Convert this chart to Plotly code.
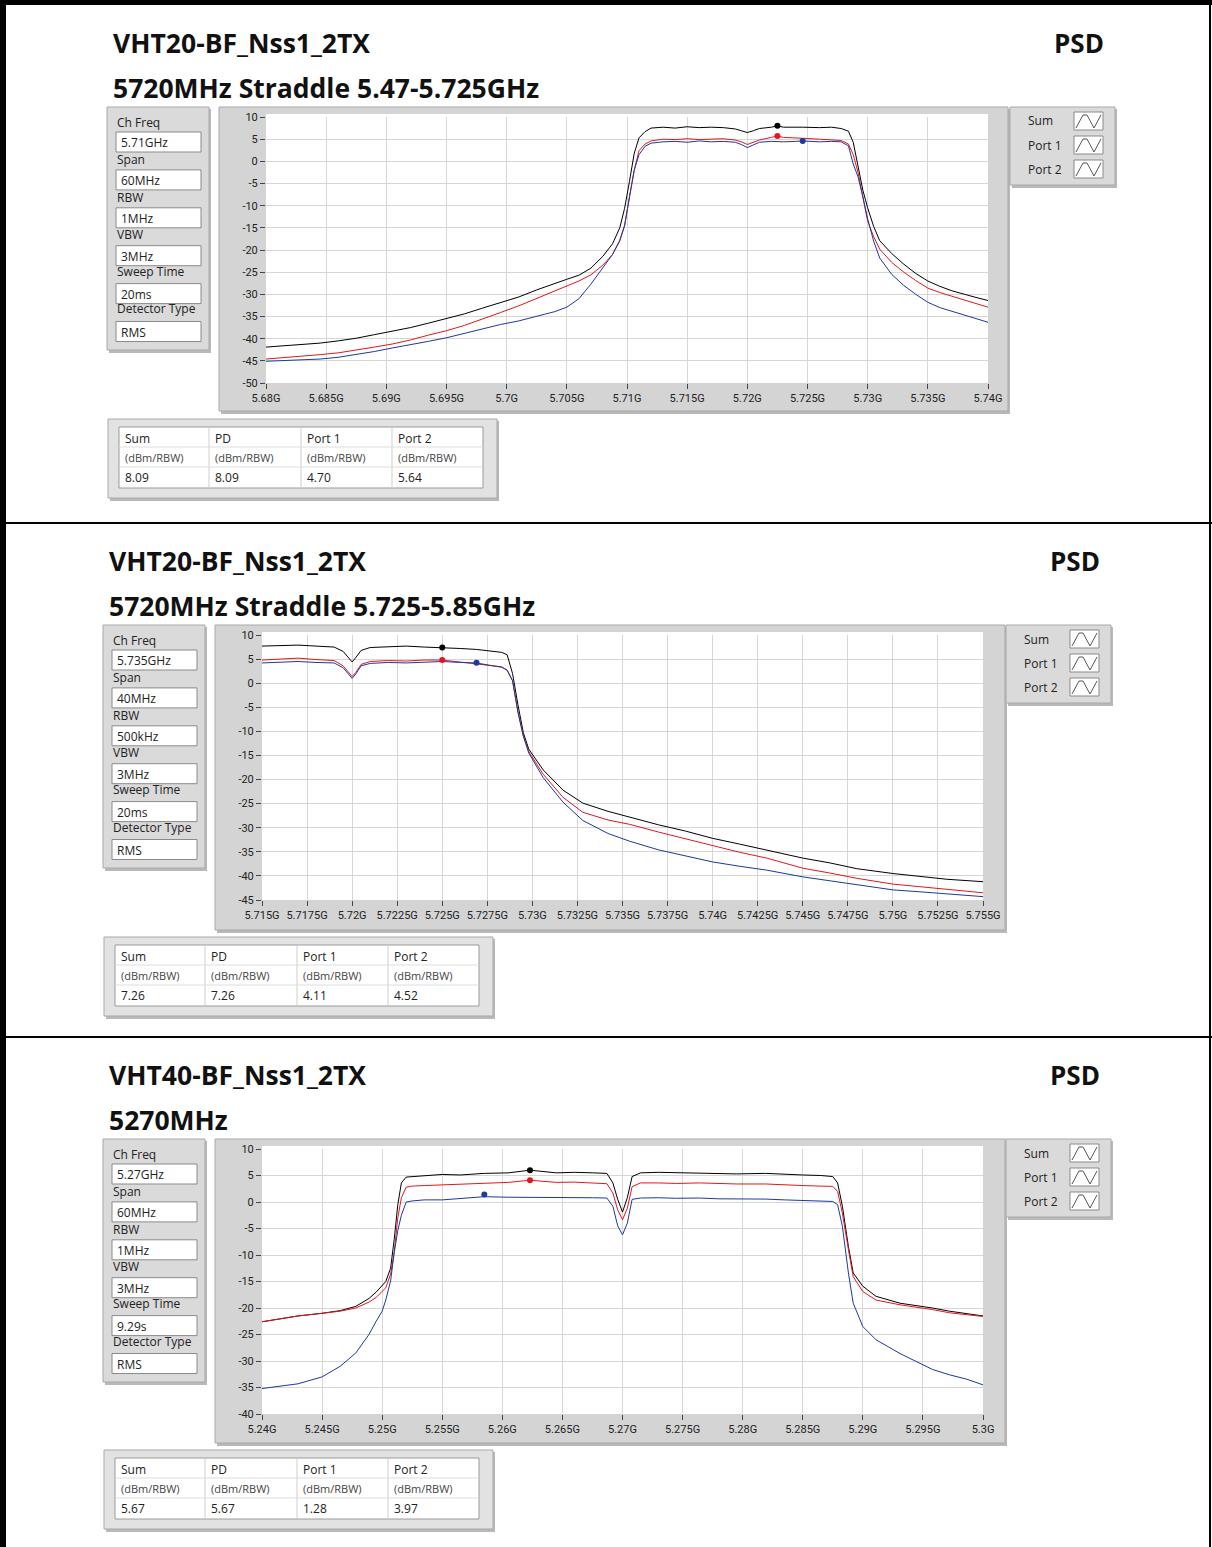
import plotly.graph_objects as go

W, H = 1212, 1547

# ======================= DATA =======================
SERIES_NAMES = ["Sum", "Port 1", "Port 2"]
PARAM_LABELS = ["Ch Freq", "Span", "RBW", "VBW", "Sweep Time", "Detector Type"]
TABLE_HEAD = ["Sum", "PD", "Port 1", "Port 2"]
TABLE_UNIT = ["(dBm/RBW)", "(dBm/RBW)", "(dBm/RBW)", "(dBm/RBW)"]

# ---- Panel 1 ----
P1_TITLE = "VHT20-BF_Nss1_2TX"
P1_SUBTITLE = "5720MHz Straddle 5.47-5.725GHz"
P1_PARAMS = ["5.71GHz", "60MHz", "1MHz", "3MHz", "20ms", "RMS"]
P1_TABLE = ["8.09", "8.09", "4.70", "5.64"]
P1_FREQ = [5.680, 5.6815, 5.683, 5.6845, 5.686, 5.6875, 5.689, 5.6905, 5.692, 5.6935,
           5.695, 5.6965, 5.698, 5.6995, 5.701, 5.7025, 5.704, 5.705, 5.706, 5.707,
           5.708, 5.7088, 5.7094, 5.7098, 5.7102, 5.7106, 5.711, 5.7115, 5.712, 5.713,
           5.714, 5.715, 5.716, 5.717, 5.718, 5.719, 5.7195, 5.720, 5.7205, 5.721,
           5.722, 5.7225, 5.723, 5.724, 5.7246, 5.726, 5.727, 5.7278, 5.7284, 5.7288,
           5.7292, 5.7296, 5.730, 5.7305, 5.731, 5.732, 5.733, 5.734, 5.735, 5.736,
           5.737, 5.738, 5.739, 5.740]
P1_SUM = [-41.9, -41.6, -41.3, -41.0, -40.5, -39.9, -39.1, -38.3, -37.5, -36.5,
          -35.5, -34.4, -33.1, -31.9, -30.6, -29.0, -27.5, -26.6, -25.7, -24.1,
          -21.4, -18.6, -15.0, -10.6, -4.6, 1.8, 5.3, 6.7, 7.5, 7.7,
          7.5, 7.8, 7.6, 7.7, 7.6, 7.3, 6.9, 6.5, 6.9, 7.4,
          7.7, 8.0, 7.7, 7.8, 7.7, 7.6, 7.7, 7.4, 6.8, 4.3,
          -1.0, -6.5, -10.5, -14.7, -17.9, -20.8, -23.2, -25.3, -27.0, -28.2,
          -29.2, -30.0, -30.7, -31.4]
P1_PORT1 = [-44.6, -44.3, -43.9, -43.6, -43.2, -42.6, -41.9, -41.2, -40.3, -39.2,
            -38.2, -37.0, -35.6, -34.1, -32.6, -30.9, -29.3, -28.1, -27.0, -25.6,
            -23.4, -21.0, -18.0, -14.5, -8.5, -2.0, 2.4, 3.9, 4.6, 5.0,
            4.9, 5.1, 4.9, 5.0, 5.1, 4.8, 4.4, 3.8, 4.3, 4.8,
            5.4, 5.7, 5.4, 5.2, 5.2, 5.0, 4.9, 4.7, 3.9, 1.5,
            -2.5, -8.0, -13.5, -17.0, -19.8, -22.8, -25.0, -26.9, -28.6, -29.6,
            -30.4, -31.3, -32.1, -32.9]
P1_PORT2 = [-45.1, -44.9, -44.8, -44.6, -44.2, -43.6, -42.9, -42.1, -41.4, -40.6,
            -39.8, -38.8, -37.7, -36.8, -36.0, -35.0, -33.9, -32.9, -31.0, -27.7,
            -24.0, -21.0, -17.8, -14.5, -8.0, -2.0, 1.5, 3.4, 4.1, 4.4,
            4.5, 4.3, 4.6, 4.4, 4.5, 4.3, 3.8, 3.1, 3.7, 4.3,
            4.5, 4.4, 4.4, 4.5, 4.6, 4.4, 4.5, 4.4, 3.5, -0.6,
            -3.5, -8.0, -13.0, -18.0, -21.8, -25.5, -28.0, -30.0, -31.8, -33.0,
            -33.8, -34.6, -35.5, -36.3]
P1_MARK_X = [5.7225, 5.7225, 5.7246]
P1_MARK_Y = [8.0, 5.7, 4.6]
P1_XTICKS = [5.68, 5.685, 5.69, 5.695, 5.70, 5.705, 5.71, 5.715, 5.72, 5.725, 5.73, 5.735, 5.74]
P1_XLABELS = ["5.68G", "5.685G", "5.69G", "5.695G", "5.7G", "5.705G", "5.71G", "5.715G",
              "5.72G", "5.725G", "5.73G", "5.735G", "5.74G"]
P1_YTICKS = [10, 5, 0, -5, -10, -15, -20, -25, -30, -35, -40, -45, -50]
P1_YLABELS = ["10", "5", "0", "-5", "-10", "-15", "-20", "-25", "-30", "-35", "-40", "-45", "-50"]

# ---- Panel 2 ----
P2_TITLE = "VHT20-BF_Nss1_2TX"
P2_SUBTITLE = "5720MHz Straddle 5.725-5.85GHz"
P2_PARAMS = ["5.735GHz", "40MHz", "500kHz", "3MHz", "20ms", "RMS"]
P2_TABLE = ["7.26", "7.26", "4.11", "4.52"]
P2_FREQ = [5.715, 5.716, 5.717, 5.718, 5.719, 5.7195, 5.7198, 5.720, 5.7202, 5.7205,
           5.721, 5.722, 5.723, 5.724, 5.725, 5.726, 5.7269, 5.7278, 5.7283, 5.7286,
           5.7289, 5.7292, 5.7295, 5.7298, 5.7306, 5.7317, 5.7328, 5.7342, 5.7354, 5.737,
           5.7385, 5.740, 5.7415, 5.743, 5.745, 5.7465, 5.748, 5.750, 5.7515, 5.753,
           5.755]
P2_SUM = [7.7, 7.8, 7.9, 7.7, 7.5, 6.6, 5.3, 4.4, 5.3, 6.8,
          7.4, 7.6, 7.7, 7.5, 7.4, 7.2, 7.0, 6.7, 6.4, 5.9,
          2.0, -4.5, -10.3, -13.7, -18.0, -22.2, -24.9, -26.6, -27.8, -29.4,
          -30.7, -32.2, -33.4, -34.6, -36.3, -37.3, -38.5, -39.5, -40.1, -40.7,
          -41.2]
P2_PORT1 = [4.8, 5.0, 5.2, 4.9, 4.7, 3.6, 2.2, 1.4, 2.2, 3.9,
            4.5, 4.7, 4.6, 4.8, 4.8, 4.4, 4.1, 3.7, 3.4, 2.7,
            0.5, -6.0, -11.0, -14.2, -18.9, -23.7, -26.8, -28.4, -29.3, -30.9,
            -32.3, -33.8, -35.1, -36.3, -38.4, -39.4, -40.5, -41.7, -42.2, -42.8,
            -43.5]
P2_PORT2 = [4.2, 4.4, 4.5, 4.3, 4.2, 3.2, 1.9, 1.0, 1.9, 3.6,
            4.1, 4.3, 4.2, 4.4, 4.5, 4.3, 4.2, 3.6, 3.3, 2.7,
            0.5, -6.0, -11.0, -14.5, -19.6, -24.7, -28.5, -31.2, -32.8, -34.6,
            -35.8, -37.1, -38.0, -38.8, -40.2, -41.0, -41.7, -42.9, -43.3, -43.7,
            -44.3]
P2_MARK_X = [5.725, 5.725, 5.7269]
P2_MARK_Y = [7.4, 4.8, 4.25]
P2_XTICKS = [5.715, 5.7175, 5.72, 5.7225, 5.725, 5.7275, 5.73, 5.7325, 5.735, 5.7375,
             5.74, 5.7425, 5.745, 5.7475, 5.75, 5.7525, 5.755]
P2_XLABELS = ["5.715G", "5.7175G", "5.72G", "5.7225G", "5.725G", "5.7275G", "5.73G", "5.7325G",
              "5.735G", "5.7375G", "5.74G", "5.7425G", "5.745G", "5.7475G", "5.75G", "5.7525G", "5.755G"]
P2_YTICKS = [10, 5, 0, -5, -10, -15, -20, -25, -30, -35, -40, -45]
P2_YLABELS = ["10", "5", "0", "-5", "-10", "-15", "-20", "-25", "-30", "-35", "-40", "-45"]

# ---- Panel 3 ----
P3_TITLE = "VHT40-BF_Nss1_2TX"
P3_SUBTITLE = "5270MHz"
P3_PARAMS = ["5.27GHz", "60MHz", "1MHz", "3MHz", "9.29s", "RMS"]
P3_TABLE = ["5.67", "5.67", "1.28", "3.97"]
P3_FREQ = [5.240, 5.2415, 5.243, 5.245, 5.2465, 5.2478, 5.2489, 5.2495, 5.2500, 5.2503,
           5.2507, 5.2510, 5.2513, 5.2516, 5.2520, 5.2525, 5.2535, 5.255, 5.2565, 5.2585,
           5.2605, 5.2623, 5.2645, 5.266, 5.2675, 5.2687, 5.2692, 5.2696, 5.2700, 5.2704,
           5.2708, 5.2715, 5.273, 5.2745, 5.2764, 5.278, 5.2795, 5.2819, 5.2835, 5.285,
           5.2865, 5.2875, 5.2879, 5.2883, 5.2888, 5.2892, 5.2900, 5.2911, 5.2931, 5.2945,
           5.2958, 5.2972, 5.2986, 5.3000]
P3_SUM = [-22.6, -22.0, -21.5, -21.0, -20.5, -19.7, -18.2, -17.0, -15.8, -15.0,
          -12.5, -7.1, -0.5, 3.6, 4.7, 4.8, 5.0, 5.2, 5.1, 5.4,
          5.5, 6.0, 5.5, 5.6, 5.5, 5.4, 3.6, 0.5, -1.9, 0.8,
          4.8, 5.5, 5.6, 5.5, 5.5, 5.4, 5.3, 5.4, 5.2, 5.1,
          5.0, 4.8, 3.6, -0.8, -8.4, -13.4, -15.9, -17.8, -19.1, -19.5,
          -20.0, -20.6, -21.0, -21.5]
P3_PORT1 = [-22.6, -22.0, -21.5, -21.0, -20.6, -20.0, -18.9, -18.0, -16.8, -16.2,
            -13.6, -9.5, -3.0, 0.8, 2.8, 3.0, 3.1, 3.25, 3.3, 3.6,
            3.7, 4.1, 3.7, 3.75, 3.6, 3.45, 1.7, -1.5, -3.35, -1.2,
            2.9, 3.6, 3.6, 3.5, 3.6, 3.5, 3.4, 3.4, 3.2, 3.1,
            3.0, 2.95, 2.0, -2.1, -9.0, -14.1, -16.9, -18.5, -19.4, -19.8,
            -20.3, -20.9, -21.3, -21.6]
P3_PORT2 = [-35.2, -34.8, -34.3, -33.0, -31.0, -28.5, -25.0, -22.5, -20.6, -18.5,
            -14.9, -9.6, -5.4, -2.5, 0.0, 0.2, 0.4, 0.4, 0.6, 1.0,
            0.9, 0.9, 0.9, 0.9, 0.8, 0.75, -0.8, -4.5, -6.2, -4.0,
            0.5, 0.75, 0.8, 0.7, 0.75, 0.6, 0.6, 0.55, 0.4, 0.3,
            0.2, 0.1, -0.5, -4.6, -13.4, -19.1, -23.5, -26.0, -28.6, -30.2,
            -31.6, -32.6, -33.4, -34.5]
P3_MARK_X = [5.2623, 5.2623, 5.2585]
P3_MARK_Y = [6.0, 4.1, 1.4]
P3_XTICKS = [5.24, 5.245, 5.25, 5.255, 5.26, 5.265, 5.27, 5.275, 5.28, 5.285, 5.29, 5.295, 5.30]
P3_XLABELS = ["5.24G", "5.245G", "5.25G", "5.255G", "5.26G", "5.265G", "5.27G", "5.275G",
              "5.28G", "5.285G", "5.29G", "5.295G", "5.3G"]
P3_YTICKS = [10, 5, 0, -5, -10, -15, -20, -25, -30, -35, -40]
P3_YLABELS = ["10", "5", "0", "-5", "-10", "-15", "-20", "-25", "-30", "-35", "-40"]

# ======================= LAYOUT HELPERS =======================
TEXT_FONT = "Open Sans"
TICK_FONT = "Roboto"
COLORS = ["#000000", "#e3161f", "#1b3a9c"]

shapes = []
annotations = []


def px(x):
    return x / W


def py(y):
    return 1 - y / H


def rect(x0, y0, x1, y1, fill, line="rgba(0,0,0,0)", lw=0):
    shapes.append(dict(type="rect", xref="paper", yref="paper", layer="below",
                       x0=px(x0), x1=px(x1), y0=py(y1), y1=py(y0),
                       fillcolor=fill, line=dict(color=line, width=lw)))


def seg(x0, y0, x1, y1, color, lw=1):
    shapes.append(dict(type="line", xref="paper", yref="paper", layer="below",
                       x0=px(x0), x1=px(x1), y0=py(y0), y1=py(y1),
                       line=dict(color=color, width=lw)))


def text(x, y, s, size=12, color="#1a1a1a", bold=False, anchor="left", family=TEXT_FONT):
    annotations.append(dict(xref="paper", yref="paper", x=px(x), y=py(y), text=s,
                            showarrow=False, xanchor=anchor, yanchor="middle",
                            font=dict(family=family, size=size, color=color,
                                      weight="bold" if bold else "normal")))


def panel_box(x0, y0, x1, y1, fill):
    rect(x0 + 2, y0 + 2, x1 + 2, y1 + 3, "#b9b9b9")
    rect(x0, y0, x1, y1, fill, "#a9a9a9", 1)


fig = go.Figure()

panels = [
    dict(title=P1_TITLE, sub=P1_SUBTITLE, params=P1_PARAMS, table=P1_TABLE,
         freq=P1_FREQ, series=[P1_SUM, P1_PORT1, P1_PORT2], mx=P1_MARK_X, my=P1_MARK_Y,
         xt=P1_XTICKS, xl=P1_XLABELS, yt=P1_YTICKS, yl=P1_YLABELS,
         dx=0, dy=0, tdy=0, plot=(266, 117, 988, 383), frame=(219, 107, 1008, 411)),
    dict(title=P2_TITLE, sub=P2_SUBTITLE, params=P2_PARAMS, table=P2_TABLE,
         freq=P2_FREQ, series=[P2_SUM, P2_PORT1, P2_PORT2], mx=P2_MARK_X, my=P2_MARK_Y,
         xt=P2_XTICKS, xl=P2_XLABELS, yt=P2_YTICKS, yl=P2_YLABELS,
         dx=-4, dy=518, tdy=518, plot=(262, 635, 983, 900), frame=(215, 625, 1005, 930)),
    dict(title=P3_TITLE, sub=P3_SUBTITLE, params=P3_PARAMS, table=P3_TABLE,
         freq=P3_FREQ, series=[P3_SUM, P3_PORT1, P3_PORT2], mx=P3_MARK_X, my=P3_MARK_Y,
         xt=P3_XTICKS, xl=P3_XLABELS, yt=P3_YTICKS, yl=P3_YLABELS,
         dx=-4, dy=1032, tdy=1031, plot=(262, 1149, 983, 1414), frame=(215, 1139, 1005, 1443)),
]

axis_layout = {}
for i, p in enumerate(panels):
    n = i + 1
    dx, dy, tdy = p["dx"], p["dy"], p["tdy"]

    # titles
    text(111 + dx, 43 + dy, p["title"], size=26.5, color="#111111", bold=True)
    text(111 + dx, 88 + dy, p["sub"], size=26.5, color="#111111", bold=True)
    text(1106 + dx, 43 + dy, "PSD", size=26, color="#111111", bold=True, anchor="right")

    # parameter cluster
    panel_box(107 + dx, 107 + dy, 209 + dx, 350 + dy, "#dadada")
    for k, (lab, val) in enumerate(zip(PARAM_LABELS, p["params"])):
        text(115 + dx, 107 + dy + 15.5 + k * 37.3, lab, size=12, color="#222222")
        top = 107 + dy + 25 + k * 37.9
        rect(116 + dx, top, 201 + dx, top + 20, "#ffffff", "#8a8a8a", 1)
        text(119 + dx, top + 10.5, val, size=12, color="#222222")

    # graph frame
    fx0, fy0, fx1, fy1 = p["frame"]
    panel_box(fx0, fy0, fx1, fy1, "#d4d4d4")
    x0, y0, x1, y1 = p["plot"]
    rect(x0, y0 - 3, x1, y1, "#ffffff")

    # legend cluster
    panel_box(1010 + dx, 107 + dy, 1115 + dx, 185 + dy, "#dadada")
    for k, name in enumerate(SERIES_NAMES):
        cy = 121 + dy + k * 24
        text(1026 + dx, cy, name, size=12, color="#222222")
        ix0, ix1 = 1074 + dx, 1103 + dx
        rect(ix0, cy - 9, ix1, cy + 9, "#ffffff", "#8a8a8a", 1)
        path = "M {a},{b} L {c},{d} L {e},{d} L {f},{b} L {g},{d}".format(
            a=px(ix0 + 2), b=py(cy + 7), c=px(ix0 + 9), d=py(cy - 6),
            e=px(ix0 + 13), f=px(ix0 + 20), g=px(ix1 - 2))
        shapes.append(dict(type="path", xref="paper", yref="paper", layer="below",
                           path=path, line=dict(color="#555555", width=1)))

    # results table
    panel_box(108 + dx, 419 + tdy, 497 + dx, 498 + tdy, "#e2e2e2")
    rect(119 + dx, 427 + tdy, 483 + dx, 488 + tdy, "#ffffff", "#9a9a9a", 1)
    cols = [119, 209, 301, 392, 483]
    for cx in cols[1:-1]:
        seg(cx + dx, 427 + tdy, cx + dx, 488 + tdy, "#cfcfcf")
    seg(119 + dx, 447 + tdy, 483 + dx, 447 + tdy, "#dddddd")
    seg(119 + dx, 467 + tdy, 483 + dx, 467 + tdy, "#dddddd")
    for c in range(4):
        tx = cols[c] + 4 + dx
        text(tx, 438 + tdy, TABLE_HEAD[c], size=12, color="#222222")
        text(tx, 457.5 + tdy, TABLE_UNIT[c], size=11, color="#444444")
        text(tx, 477 + tdy, p["table"][c], size=12, color="#222222")

    # traces
    xa = "x" if n == 1 else "x%d" % n
    ya = "y" if n == 1 else "y%d" % n
    for s, vals in enumerate(p["series"]):
        fig.add_trace(go.Scatter(x=p["freq"], y=vals, mode="lines", xaxis=xa, yaxis=ya,
                                 line=dict(color=COLORS[s], width=1), showlegend=False,
                                 name=SERIES_NAMES[s]))
    fig.add_trace(go.Scatter(x=p["mx"], y=p["my"], mode="markers", xaxis=xa, yaxis=ya,
                             marker=dict(color=COLORS, size=6), showlegend=False))

    xkey = "xaxis" if n == 1 else "xaxis%d" % n
    ykey = "yaxis" if n == 1 else "yaxis%d" % n
    axis_layout[xkey] = dict(domain=[px(x0), px(x1)], range=[p["xt"][0], p["xt"][-1]],
                             anchor=ya, tickmode="array", tickvals=p["xt"], ticktext=p["xl"],
                             tickangle=0, ticks="outside", ticklen=5, tickcolor="#444444",
                             showgrid=True, gridcolor="#d6d6d6", gridwidth=1,
                             zeroline=False, showline=False, automargin=False,
                             tickfont=dict(family=TICK_FONT, size=11, color="#222222"))
    axis_layout[ykey] = dict(domain=[py(y1), py(y0)], range=[p["yt"][-1], p["yt"][0]],
                             anchor=xa, tickmode="array", tickvals=p["yt"], ticktext=p["yl"],
                             ticks="outside", ticklen=5, tickcolor="#444444",
                             showgrid=True, gridcolor="#d6d6d6", gridwidth=1,
                             zeroline=False, showline=False, automargin=False,
                             tickfont=dict(family=TICK_FONT, size=11, color="#222222"))

# outer page border and separators
rect(0, 0, 6, H, "#000000")
rect(0, 0, W, 5, "#000000")
rect(1209, 0, 1211, H, "#000000")
rect(0, 522, W, 524, "#000000")
rect(0, 1036, W, 1038, "#000000")

fig.update_layout(template="none", width=W, height=H, autosize=False,
                  margin=dict(l=0, r=0, t=0, b=0, pad=0, autoexpand=False),
                  paper_bgcolor="#ffffff", plot_bgcolor="rgba(0,0,0,0)",
                  shapes=shapes, annotations=annotations, showlegend=False,
                  **axis_layout)

fig.write_html("out.html", config={"displayModeBar": False},
               post_script="document.body.style.margin='0px';"
                           "document.body.style.overflow='hidden';"
                           "document.documentElement.style.overflow='hidden';")
